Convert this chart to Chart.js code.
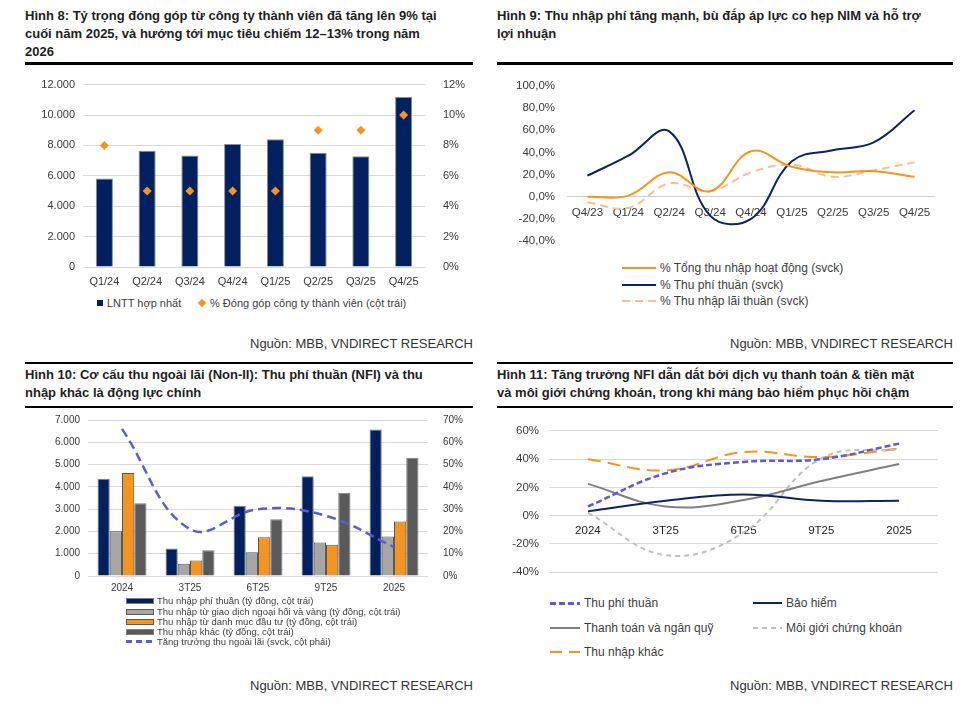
<!DOCTYPE html>
<html lang="vi">
<head>
<meta charset="utf-8">
<script src="https://cdn.jsdelivr.net/npm/chart.js@4.4.1/dist/chart.umd.min.js"></script>
<style>
  body { margin: 0; background: #fff; font-family: 'Liberation Sans', Arial, sans-serif; color: #222; }
  #page { position: relative; width: 972px; height: 706px; overflow: hidden; }
  .title { position: absolute; font-weight: bold; font-size: 13px; line-height: 18px; white-space: nowrap; color: #1e1e1e; }
  .rule { position: absolute; background: #000; }
  .source { position: absolute; font-size: 13px; line-height: 18px; color: #333; white-space: nowrap; }
  .lg { position: absolute; white-space: nowrap; color: #404040; display: flex; align-items: center; }
  .sw { display: inline-block; flex: none; }
  canvas { position: absolute; }
</style>
</head>
<body>
<div id="page">
  <!-- Hình 8 -->
  <div class="title" style="left:25px; top:7px;">Hình 8: Tỷ trọng đóng góp từ công ty thành viên đã tăng lên 9% tại<br>cuối năm 2025, và hướng tới mục tiêu chiếm 12–13% trong năm<br>2026</div>
  <div class="rule" style="left:25px; top:62px; width:448px; height:3px;"></div>
  <canvas id="c1" width="450" height="224" style="left:25px; top:68px;"></canvas>
  <div class="lg" style="left:97px; top:296px; font-size:11px; height:14px;">
    <span class="sw" style="width:6px; height:6px; background:#002060; margin-right:4px;"></span>LNTT hợp nhất
  </div>
  <div class="lg" style="left:199px; top:296px; font-size:11px; height:14px;">
    <span class="sw" style="width:6px; height:6px; background:#F7941D; transform:rotate(45deg); margin-right:5px;"></span>% Đóng góp công ty thành viên (cột trái)
  </div>
  <div class="source" style="right:499px; top:335px;">Nguồn: MBB, VNDIRECT RESEARCH</div>

  <!-- Hình 9 -->
  <div class="title" style="left:497px; top:7px;">Hình 9: Thu nhập phí tăng mạnh, bù đắp áp lực co hẹp NIM và hỗ trợ<br>lợi nhuận</div>
  <div class="rule" style="left:497px; top:62px; width:456px; height:3px;"></div>
  <canvas id="c2" width="456" height="193" style="left:497px; top:67px;"></canvas>
  <div class="lg" style="left:622px; top:260px; font-size:12px; height:16px;">
    <span class="sw" style="width:34px; height:2px; background:#F7941D; margin-right:4px;"></span>% Tổng thu nhập hoạt động (svck)
  </div>
  <div class="lg" style="left:622px; top:277px; font-size:12px; height:16px;">
    <span class="sw" style="width:34px; height:2px; background:#0C2461; margin-right:4px;"></span>% Thu phí thuần (svck)
  </div>
  <div class="lg" style="left:622px; top:293px; font-size:12px; height:16px;">
    <span class="sw" style="width:34px; height:2px; background:repeating-linear-gradient(90deg,#FAC08F 0 8px,transparent 8px 13px); margin-right:4px;"></span>% Thu nhập lãi thuần (svck)
  </div>
  <div class="source" style="right:19px; top:335px;">Nguồn: MBB, VNDIRECT RESEARCH</div>

  <!-- Hình 10 -->
  <div class="rule" style="left:25px; top:362px; width:448px; height:2px;"></div>
  <div class="title" style="left:25px; top:366px;">Hình 10: Cơ cấu thu ngoài lãi (Non-II): Thu phí thuần (NFI) và thu<br>nhập khác là động lực chính</div>
  <div class="rule" style="left:25px; top:406px; width:448px; height:1.5px;"></div>
  <canvas id="c3" width="450" height="194" style="left:25px; top:406px;"></canvas>
  <div class="lg" style="left:126px; top:595px; font-size:9.5px; height:11px;">
    <span class="sw" style="width:26px; height:4px; background:#002060; border:1px solid #7f7f7f; margin-right:3px;"></span>Thu nhập phí thuần (tỷ đồng, cột trái)
  </div>
  <div class="lg" style="left:126px; top:606px; font-size:9.5px; height:11px;">
    <span class="sw" style="width:26px; height:4px; background:#A6A6A6; border:1px solid #595959; margin-right:3px;"></span>Thu nhập từ giao dịch ngoại hối và vàng (tỷ đồng, cột trái)
  </div>
  <div class="lg" style="left:126px; top:616px; font-size:9.5px; height:11px;">
    <span class="sw" style="width:26px; height:4px; background:#F7941D; border:1px solid #595959; margin-right:3px;"></span>Thu nhập từ danh mục đầu tư (tỷ đồng, cột trái)
  </div>
  <div class="lg" style="left:126px; top:626px; font-size:9.5px; height:11px;">
    <span class="sw" style="width:26px; height:4px; background:#595959; border:1px solid #7f7f7f; margin-right:3px;"></span>Thu nhập khác (tỷ đồng, cột trái)
  </div>
  <div class="lg" style="left:126px; top:636px; font-size:9.5px; height:11px;">
    <span class="sw" style="width:28px; height:2.5px; background:repeating-linear-gradient(90deg,#5B5BD6 0 6px,transparent 6px 10px); margin-right:3px;"></span>Tăng trưởng thu ngoài lãi (svck, cột phải)
  </div>
  <div class="source" style="right:499px; top:677px;">Nguồn: MBB, VNDIRECT RESEARCH</div>

  <!-- Hình 11 -->
  <div class="rule" style="left:497px; top:362px; width:456px; height:2px;"></div>
  <div class="title" style="left:497px; top:366px;">Hình 11: Tăng trưởng NFI dẫn dắt bởi dịch vụ thanh toán &amp; tiền mặt<br>và môi giới chứng khoán, trong khi mảng bảo hiểm phục hồi chậm</div>
  <div class="rule" style="left:497px; top:406px; width:456px; height:1.5px;"></div>
  <canvas id="c4" width="456" height="175" style="left:497px; top:414px;"></canvas>
  <div class="lg" style="left:550px; top:595px; font-size:12px; height:16px;">
    <span class="sw" style="width:30px; height:3px; background:repeating-linear-gradient(90deg,#5B5BD6 0 6px,transparent 6px 9px); margin-right:4px;"></span>Thu phí thuần
  </div>
  <div class="lg" style="left:753px; top:595px; font-size:12px; height:16px;">
    <span class="sw" style="width:29px; height:2px; background:#0C2461; margin-right:4px;"></span>Bảo hiểm
  </div>
  <div class="lg" style="left:550px; top:620px; font-size:12px; height:16px;">
    <span class="sw" style="width:30px; height:2px; background:#808080; margin-right:4px;"></span>Thanh toán và ngân quỹ
  </div>
  <div class="lg" style="left:753px; top:620px; font-size:12px; height:16px;">
    <span class="sw" style="width:29px; height:2px; background:repeating-linear-gradient(90deg,#BFBFBF 0 5px,transparent 5px 9px); margin-right:4px;"></span>Môi giới chứng khoán
  </div>
  <div class="lg" style="left:550px; top:644px; font-size:12px; height:16px;">
    <span class="sw" style="width:30px; height:2px; background:repeating-linear-gradient(90deg,#F7941D 0 12px,transparent 12px 19px); margin-right:4px;"></span>Thu nhập khác
  </div>
  <div class="source" style="right:19px; top:677px;">Nguồn: MBB, VNDIRECT RESEARCH</div>
</div>

<script>
// Hình 8 – LNTT hợp nhất (tỷ đồng) and share of subsidiaries (%)
const quarters8 = ['Q1/24', 'Q2/24', 'Q3/24', 'Q4/24', 'Q1/25', 'Q2/25', 'Q3/25', 'Q4/25'];
const lnttValues = [5830, 7650, 7330, 8100, 8400, 7520, 7280, 11190];
const memberShare = [8, 5, 5, 5, 5, 9, 9, 10];

// Hình 9 – yoy growth (%)
const quarters9 = ['Q4/23', 'Q1/24', 'Q2/24', 'Q3/24', 'Q4/24', 'Q1/25', 'Q2/25', 'Q3/25', 'Q4/25'];
const toiGrowth = [0, 1, 22, 5, 41, 27, 22, 23, 18];
const nfiGrowth = [19, 37, 59, -17, -20, 32, 42, 49, 78];
const niiGrowth = [-5, -10, 12, 5, 22, 29, 18, 24, 31];

// Hình 10 – non-interest income structure (tỷ đồng) and growth (%)
const periods10 = ['2024', '3T25', '6T25', '9T25', '2025'];
const feeIncome = [4360, 1230, 3150, 4480, 6570];
const fxGoldIncome = [2010, 555, 1070, 1500, 1770];
const investIncome = [4620, 700, 1740, 1400, 2440];
const otherIncome = [3270, 1160, 2550, 3730, 5310];
const nonIIGrowth = [66, 21, 30, 27, 13];

// Hình 11 – NFI growth by segment (%)
const periods11 = ['2024', '3T25', '6T25', '9T25', '2025'];
const feeGrowth = [6.5, 30, 38, 40, 51];
const insuranceGrowth = [3, 10.5, 15, 10.5, 10.5];
const paymentGrowth = [22.5, 6.5, 11, 24.5, 36.5];
const brokerageGrowth = [2, -28, -12, 40.5, 47];
const otherGrowth = [40, 32, 45, 41.5, 47.5];

const NAVY = '#002060';
const NAVY_LINE = '#0C2461';
const ORANGE = '#F7941D';
const BLUE_DASH = '#5B5BD6';
const GRID = '#D9D9D9';
const TICK = '#3a3a3a';
const FONT = "'Liberation Sans', Arial, sans-serif";

const thousands = v => String(v).replace(/\B(?=(\d{3})+(?!\d))/g, '.');
const base = {
  responsive: false,
  animation: false,
  events: [],
  plugins: { legend: { display: false }, tooltip: { enabled: false } }
};

// note: the y tick padding also adds to the space above/below the plot
new Chart(document.getElementById('c1'), {
  type: 'bar',
  data: {
    labels: quarters8,
    datasets: [
      { type: 'line', data: memberShare, yAxisID: 'y1', showLine: false, pointStyle: 'rectRot',
        pointRadius: 4.5, backgroundColor: ORANGE, borderColor: ORANGE, borderWidth: 0, order: 0 },
      { data: lnttValues, yAxisID: 'y', backgroundColor: NAVY, borderColor: '#8c8c8c', borderWidth: 1,
        barPercentage: 0.4, categoryPercentage: 1, order: 1 }
    ]
  },
  options: {
    ...base,
    scales: {
      x: { grid: { display: false }, border: { display: false },
           ticks: { padding: 0, color: TICK, font: { family: FONT, size: 11 } },
           afterFit: s => { s.height = 25; } },
      y: { position: 'left', min: 0, max: 12000,
           ticks: { stepSize: 2000, padding: 8, color: TICK, font: { family: FONT, size: 11 }, callback: thousands },
           grid: { color: GRID, drawTicks: false }, border: { display: false },
           afterFit: s => { s.width = 58; } },
      y1: { position: 'right', min: 0, max: 12,
            ticks: { stepSize: 2, padding: 10, color: TICK, font: { family: FONT, size: 11 }, callback: v => v + '%' },
            grid: { display: false }, border: { display: false },
            afterFit: s => { s.width = 50; } }
    }
  }
});

new Chart(document.getElementById('c2'), {
  type: 'line',
  data: {
    labels: quarters9,
    datasets: [
      { data: toiGrowth, borderColor: ORANGE, borderWidth: 2, pointRadius: 0, tension: 0.4 },
      { data: nfiGrowth, borderColor: NAVY_LINE, borderWidth: 2, pointRadius: 0, tension: 0.4 },
      { data: niiGrowth, borderColor: '#FAC08F', borderWidth: 2, borderDash: [8, 5], pointRadius: 0, tension: 0.4 }
    ]
  },
  options: {
    ...base,
    layout: { padding: { right: 18 } },
    scales: {
      x: { position: { y: 0 }, offset: true, grid: { display: false }, border: { display: false },
           ticks: { padding: 1, color: TICK, font: { family: FONT, size: 11.5 } },
           afterFit: s => { s.height = 0; } },
      y: { min: -40, max: 100,
           ticks: { stepSize: 20, padding: 12, color: TICK, font: { family: FONT, size: 11.5 },
                    callback: v => v.toFixed(1).replace('.', ',') + '%' },
           grid: { drawTicks: false, color: c => c.tick.value === 0 ? '#CFCFCF' : 'rgba(0,0,0,0)' },
           border: { display: false },
           afterFit: s => { s.width = 70; } }
    }
  }
});

new Chart(document.getElementById('c3'), {
  type: 'bar',
  data: {
    labels: periods10,
    datasets: [
      { type: 'line', data: nonIIGrowth, yAxisID: 'y1', borderColor: BLUE_DASH, borderWidth: 2.5,
        borderDash: [9, 5], pointRadius: 0, tension: 0.4, order: 0 },
      { data: feeIncome, backgroundColor: NAVY, borderColor: '#7f7f7f', borderWidth: 1, order: 1 },
      { data: fxGoldIncome, backgroundColor: '#A6A6A6', borderColor: '#595959', borderWidth: 1, order: 1 },
      { data: investIncome, backgroundColor: ORANGE, borderColor: '#595959', borderWidth: 1, order: 1 },
      { data: otherIncome, backgroundColor: '#595959', borderColor: '#7f7f7f', borderWidth: 1, order: 1 }
    ]
  },
  options: {
    ...base,
    datasets: { bar: { barPercentage: 1, categoryPercentage: 0.72, yAxisID: 'y' } },
    scales: {
      x: { grid: { display: false }, border: { display: false },
           ticks: { padding: -2, color: TICK, font: { family: FONT, size: 10 } },
           afterFit: s => { s.height = 24; } },
      y: { position: 'left', min: 0, max: 7000,
           ticks: { stepSize: 1000, padding: 8, color: TICK, font: { family: FONT, size: 10 }, callback: thousands },
           grid: { color: GRID, drawTicks: false }, border: { display: false },
           afterFit: s => { s.width = 63; } },
      y1: { position: 'right', min: 0, max: 70,
            ticks: { stepSize: 10, padding: 7, color: TICK, font: { family: FONT, size: 10 }, callback: v => v + '%' },
            grid: { display: false }, border: { display: false },
            afterFit: s => { s.width = 47; } }
    }
  }
});

new Chart(document.getElementById('c4'), {
  type: 'line',
  data: {
    labels: periods11,
    datasets: [
      { data: feeGrowth, borderColor: BLUE_DASH, borderWidth: 2.5, borderDash: [6, 3], pointRadius: 0, tension: 0.4 },
      { data: insuranceGrowth, borderColor: NAVY_LINE, borderWidth: 2, pointRadius: 0, tension: 0.4 },
      { data: paymentGrowth, borderColor: '#808080', borderWidth: 2, pointRadius: 0, tension: 0.4 },
      { data: brokerageGrowth, borderColor: '#BFBFBF', borderWidth: 2, borderDash: [5, 4], pointRadius: 0, tension: 0.4 },
      { data: otherGrowth, borderColor: ORANGE, borderWidth: 2, borderDash: [13, 7], pointRadius: 0, tension: 0.4 }
    ]
  },
  options: {
    ...base,
    layout: { padding: { right: 15 } },
    scales: {
      x: { position: { y: 0 }, offset: true, grid: { display: false }, border: { display: false },
           ticks: { padding: 0, color: '#222', font: { family: FONT, size: 11.5 } },
           afterFit: s => { s.height = 0; } },
      y: { min: -40, max: 60,
           ticks: { stepSize: 10, padding: 10, color: TICK, font: { family: FONT, size: 11.5 }, callback: v => v + '%' },
           grid: { drawTicks: false, color: GRID }, border: { display: false },
           afterFit: s => { s.width = 52; } }
    }
  }
});
</script>
</body>
</html>
